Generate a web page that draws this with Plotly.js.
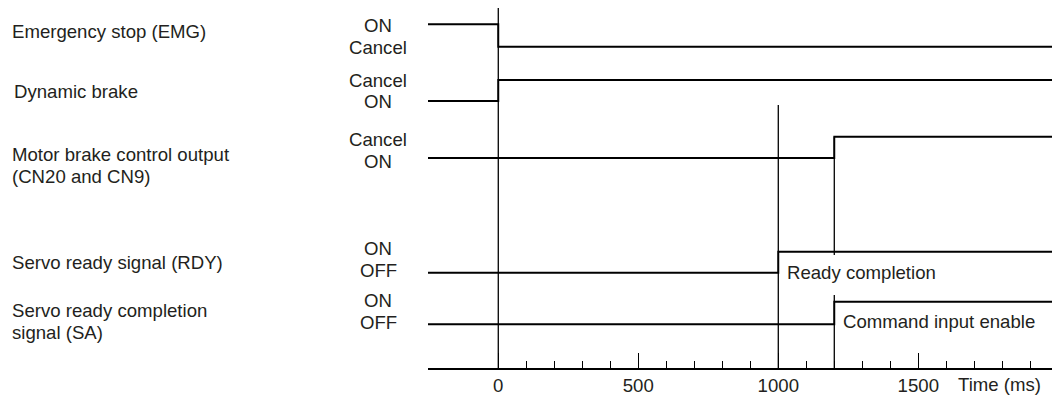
<!DOCTYPE html>
<html>
<head>
<meta charset="utf-8">
<script src="https://cdn.plot.ly/plotly-3.0.1.min.js"></script>
<style>
  html, body { margin: 0; padding: 0; background: #ffffff; }
  #chart { width: 1052px; height: 396px; }
</style>
</head>
<body>
<div id="chart"></div>
<script>
// ---------------- DATA ----------------
const signalNames = [
  "Emergency stop (EMG)",
  "Dynamic brake",
  "Motor brake control output<br>(CN20 and CN9)",
  "Servo ready signal (RDY)",
  "Servo ready completion<br>signal (SA)"
];
const upperStates = ["ON", "Cancel", "Cancel", "ON", "ON"];
const lowerStates = ["Cancel", "ON", "ON", "OFF", "OFF"];
const switchTimes = [0, 0, 1200, 1000, 1200];          // ms
const startsHigh  = [true, false, false, false, false];
const eventTimes  = [0, 1000, 1200];                   // ms
const noteTexts   = ["Ready completion", "Command input enable"];
const noteTimes   = [1000, 1200];
const timeRange   = [-251, 1977.5];                    // ms
const majorTicks  = [0, 500, 1000, 1500];
const minorTicks  = [100, 200, 300, 400, 600, 700, 800, 900, 1100, 1200, 1300, 1400, 1600, 1700, 1800, 1900];
const axisTitle   = "Time (ms)";

// ---------------- LAYOUT CONFIG (positions, in plot px units) ----------------
const AXIS_Y = 368;
const rowLevels = [[24.3, 46.7], [80, 101], [136.7, 158], [251.7, 272.7], [301.7, 324.3]];
const stateLabelY = [[25, 47.5], [80, 101], [139.5, 161.7], [248, 270], [300, 322]];
const nameFirstLineY = [31.7, 91, 154.5, 262, 310.3];
const NAME_LINE_GAP = 22;
const nameX = [10, 12, 10, 10, 10];
const eventSegments = [[[8, AXIS_Y]], [[105, AXIS_Y]], [[136.7, 255], [295, AXIS_Y]]];
const noteShift = [[7, 272.7], [7.2, 321]];
const PLOT_L = 428, PLOT_W = 624;
const TXT = "#231f20";
const FONT = "Liberation Sans, Arial, sans-serif";
const FS = 18.6;

const traces = [];
signalNames.forEach((name, i) => {
  const [hi, lo] = rowLevels[i];
  const first = startsHigh[i] ? hi : lo;
  const second = startsHigh[i] ? lo : hi;
  traces.push({
    type: "scatter", mode: "lines",
    x: [timeRange[0], switchTimes[i], timeRange[1]],
    y: [first, second, second],
    line: { shape: "hv", color: "#000000", width: 1.9 },
    hoverinfo: "skip", showlegend: false, cliponaxis: false
  });
});
eventTimes.forEach((t, k) => {
  const xs = [], ys = [];
  eventSegments[k].forEach((seg, j) => {
    if (j > 0) { xs.push(null); ys.push(null); }
    xs.push(t, t); ys.push(seg[0], seg[1]);
  });
  traces.push({
    type: "scatter", mode: "lines", x: xs, y: ys,
    line: { color: "#000000", width: 1.3 },
    hoverinfo: "skip", showlegend: false, cliponaxis: false, connectgaps: false
  });
});

const px2paper = p => (p - PLOT_L) / PLOT_W;
const annotations = [];
const txtFont = { family: FONT, size: FS, color: TXT };
signalNames.forEach((name, i) => {
  name.split("<br>").forEach((line, j) => {
    annotations.push({
      text: line, xref: "paper", yref: "y", x: px2paper(nameX[i]), y: nameFirstLineY[i] + j * NAME_LINE_GAP,
      xanchor: "left", yanchor: "middle", align: "left", showarrow: false, font: txtFont
    });
  });
  annotations.push({
    text: upperStates[i], xref: "paper", yref: "y", x: px2paper(378), y: stateLabelY[i][0],
    xanchor: "center", yanchor: "middle", showarrow: false, font: txtFont
  });
  annotations.push({
    text: lowerStates[i], xref: "paper", yref: "y", x: px2paper(378), y: stateLabelY[i][1],
    xanchor: "center", yanchor: "middle", showarrow: false, font: txtFont
  });
});
noteTexts.forEach((txt, k) => {
  annotations.push({
    text: txt, xref: "x", yref: "y", x: noteTimes[k], xshift: noteShift[k][0], y: noteShift[k][1],
    xanchor: "left", yanchor: "middle", showarrow: false, bgcolor: "#ffffff", borderpad: 1, font: txtFont
  });
});
annotations.push({
  text: axisTitle, xref: "paper", yref: "paper", x: px2paper(1043), y: 0, yshift: -16,
  xanchor: "right", yanchor: "middle", showarrow: false, font: txtFont
});

const layout = {
  width: 1052, height: 396,
  margin: { l: PLOT_L, r: 0, t: 0, b: 396 - AXIS_Y, pad: 0 },
  paper_bgcolor: "#ffffff", plot_bgcolor: "#ffffff",
  showlegend: false,
  xaxis: {
    range: timeRange, tickmode: "array", tickvals: majorTicks, ticktext: majorTicks.map(String),
    ticks: "inside", ticklen: 15, tickwidth: 1.3, tickcolor: "#000000",
    showline: true, linecolor: "#000000", linewidth: 1.9,
    showgrid: false, zeroline: false, fixedrange: true,
    tickfont: txtFont,
    minor: { tickmode: "array", tickvals: minorTicks, ticks: "inside", ticklen: 7, tickwidth: 1.3, tickcolor: "#000000", showgrid: false }
  },
  yaxis: {
    range: [AXIS_Y, 0], visible: false, showgrid: false, zeroline: false, fixedrange: true
  },
  annotations: annotations
};

Plotly.newPlot("chart", traces, layout, { staticPlot: true, displayModeBar: false });
</script>
</body>
</html>
